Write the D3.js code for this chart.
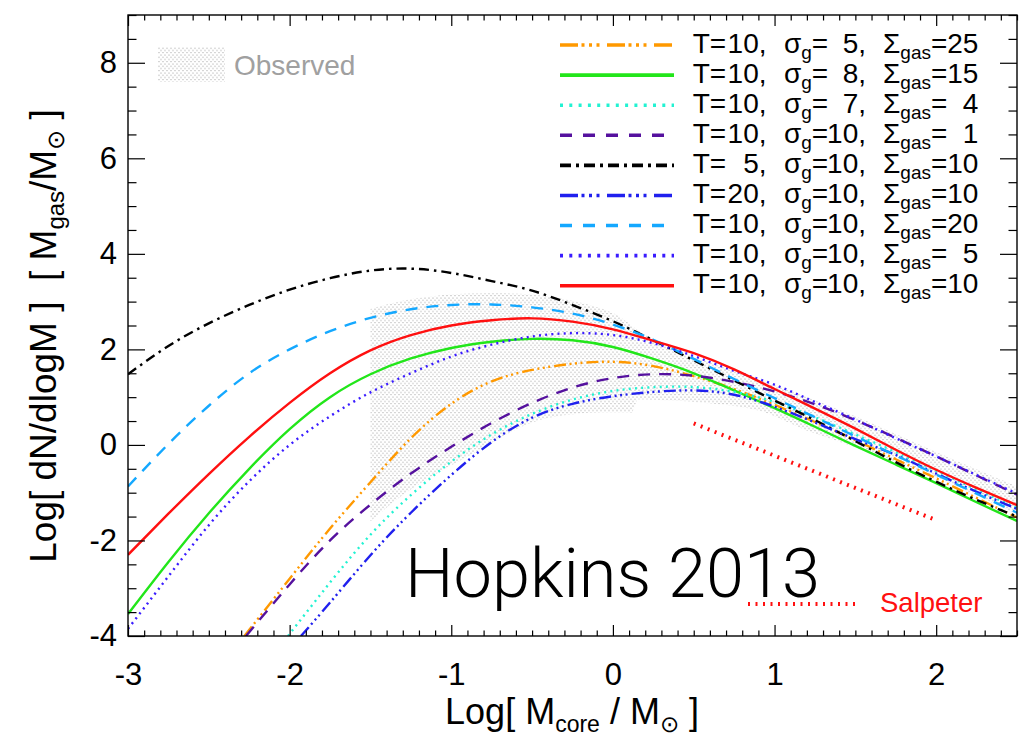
<!DOCTYPE html>
<html>
<head>
<meta charset="utf-8">
<script src="https://cdn.jsdelivr.net/npm/d3@7"></script>
<style>
  body { margin: 0; background: #fff; }
  svg { display: block; }
  text { font-family: "Liberation Sans", Arial, Helvetica, sans-serif; white-space: pre; }
</style>
</head>
<body>
<svg id="chart" width="1021" height="738"></svg>
<script>
// ---- Core mass function curves: [log M_core, log dN/dlogM] ----
const cmfT10s5g25 = [[-2.28,-4.0],[-2.0,-2.8],[-1.75,-1.75],[-1.5,-0.78],[-1.25,0.14],[-1.0,0.86],[-0.75,1.33],[-0.5,1.57],[-0.25,1.7],[0.0,1.74],[0.25,1.65],[0.5,1.44],[0.75,1.17],[1.0,0.84],[1.25,0.48],[1.5,0.1],[1.75,-0.3],[2.0,-0.7],[2.25,-1.11],[2.5,-1.52]];
const cmfT10s8g15 = [[-3,-3.54],[-2.75,-2.45],[-2.5,-1.43],[-2.25,-0.5],[-2.0,0.33],[-1.75,1.0],[-1.5,1.48],[-1.25,1.81],[-1.0,2.03],[-0.75,2.16],[-0.5,2.22],[-0.25,2.19],[0.0,2.05],[0.25,1.8],[0.5,1.5],[0.75,1.14],[1.0,0.77],[1.25,0.38],[1.5,-0.02],[1.75,-0.41],[2.0,-0.8],[2.25,-1.2],[2.5,-1.59]];
const cmfT10s7g4 = [[-2.01,-4.0],[-1.75,-2.88],[-1.5,-1.88],[-1.25,-1.05],[-1.0,-0.35],[-0.75,0.22],[-0.5,0.65],[-0.25,0.95],[0.0,1.13],[0.25,1.21],[0.5,1.21],[0.75,1.11],[1.0,0.9],[1.25,0.58],[1.5,0.22],[1.75,-0.15],[2.0,-0.54],[2.25,-0.93],[2.5,-1.32]];
const cmfT10s10g1 = [[-2.27,-4.0],[-2.0,-2.92],[-1.75,-2.0],[-1.5,-1.25],[-1.25,-0.6],[-1.0,-0.04],[-0.75,0.46],[-0.5,0.88],[-0.25,1.2],[0.0,1.4],[0.25,1.48],[0.5,1.45],[0.75,1.32],[1.0,1.12],[1.25,0.85],[1.5,0.52],[1.75,0.15],[2.0,-0.24],[2.25,-0.64],[2.5,-1.04]];
const cmfT5s10g10 = [[-3,1.48],[-2.75,2.07],[-2.5,2.545],[-2.25,2.93],[-2.0,3.25],[-1.75,3.49],[-1.5,3.65],[-1.25,3.69],[-1.0,3.6],[-0.75,3.43],[-0.5,3.23],[-0.25,2.93],[0.0,2.59],[0.25,2.19],[0.5,1.77],[0.75,1.35],[1.0,0.93],[1.25,0.52],[1.5,0.08],[1.75,-0.36],[2.0,-0.77],[2.25,-1.15],[2.5,-1.5]];
const cmfT20s10g10 = [[-1.93,-4.0],[-1.75,-3.3],[-1.5,-2.31],[-1.25,-1.42],[-1.0,-0.63],[-0.75,0.06],[-0.5,0.57],[-0.25,0.86],[0.0,1.02],[0.25,1.11],[0.5,1.14],[0.75,1.05],[1.0,0.8],[1.25,0.47],[1.5,0.12],[1.75,-0.21],[2.0,-0.6],[2.25,-0.98],[2.5,-1.34]];
const cmfT10s10g20 = [[-3,-0.87],[-2.75,0.02],[-2.5,0.82],[-2.25,1.5],[-2.0,2.0],[-1.75,2.38],[-1.5,2.66],[-1.25,2.84],[-1.0,2.93],[-0.75,2.94],[-0.5,2.88],[-0.25,2.75],[0.0,2.52],[0.25,2.2],[0.5,1.8],[0.75,1.38],[1.0,0.98],[1.25,0.58],[1.5,0.18],[1.75,-0.22],[2.0,-0.62],[2.25,-1.02],[2.5,-1.42]];
const cmfT10s10g5 = [[-3,-3.85],[-2.75,-2.75],[-2.5,-1.68],[-2.25,-0.76],[-2.0,0.0],[-1.75,0.6],[-1.5,1.1],[-1.25,1.5],[-1.0,1.85],[-0.75,2.1],[-0.5,2.27],[-0.25,2.34],[0.0,2.3],[0.25,2.13],[0.5,1.86],[0.75,1.55],[1.0,1.26],[1.25,0.9],[1.5,0.53],[1.75,0.14],[2.0,-0.24],[2.25,-0.63],[2.5,-1.02]];
const cmfT10s10g10 = [[-3,-2.30],[-2.75,-1.44],[-2.5,-0.61],[-2.25,0.17],[-2.0,0.88],[-1.75,1.5],[-1.5,1.98],[-1.25,2.3],[-1.0,2.5],[-0.75,2.61],[-0.5,2.65],[-0.25,2.58],[0.0,2.42],[0.25,2.18],[0.5,1.92],[0.75,1.58],[1.0,1.17],[1.25,0.76],[1.5,0.34],[1.75,-0.1],[2.0,-0.52],[2.25,-0.9],[2.5,-1.26]];

// Legend parameters, same order as the curves above
const legendT     = ["10", "10", "10", "10", "5", "20", "10", "10", "10"];
const legendSigma = ["5", "8", "7", "10", "10", "10", "10", "10", "10"];
const legendSigmaGas = ["25", "15", "4", "1", "10", "10", "20", "5", "10"];

// Observed CMF envelope
const obsUpper = [[-1.5,2.85],[-1.3,3.02],[-1.1,3.12],[-0.9,3.17],[-0.6,3.17],[-0.3,3.05],[0.0,2.76],[0.2,2.3],[0.5,1.85],[1.0,1.25],[1.5,0.6],[2.0,-0.15],[2.5,-0.87]];
const obsLowerRight = [[2.5,-1.45],[2.0,-0.68],[1.5,-0.05],[1.2,0.3],[0.9,0.72],[0.5,0.9],[0.15,0.95]];
const obsLowerLeft = [[0.12,0.68],[-0.2,0.66],[-0.5,0.47],[-0.9,-0.25],[-1.1,-0.62],[-1.3,-1.05],[-1.5,-1.6]];

// Salpeter slope reference segment
const salpeter = [[0.5,0.45],[2.0,-1.575]];

// Axis ticks
const xMajor = [-3, -2, -1, 0, 1, 2];
const yMajor = [-4, -2, 0, 2, 4, 6, 8];
const xMinor = d3.range(-30, 26).map(i => i / 10).filter(v => Math.abs(v - Math.round(v)) > 1e-6);
const yMinor = d3.range(-8, 19).map(i => i / 2).filter(v => v % 2 !== 0);

// ---- Layout ----
const L = 128, R = 1017, T = 15, B = 636;
const svg = d3.select("#chart");
const x = d3.scaleLinear().domain([-3, 2.5]).range([L, R]);
const y = d3.scaleLinear().domain([-4, 9]).range([B, T]);

const defs = svg.append("defs");
defs.append("clipPath").attr("id", "plotClip")
  .append("rect").attr("x", L).attr("y", T).attr("width", R - L).attr("height", B - T);

const pat = defs.append("pattern").attr("id", "obsDots")
  .attr("patternUnits", "userSpaceOnUse").attr("width", 4).attr("height", 4.5);
pat.append("circle").attr("cx", 1).attr("cy", 1).attr("r", 0.65).attr("fill", "#999");
pat.append("circle").attr("cx", 3).attr("cy", 3.25).attr("r", 0.65).attr("fill", "#999");

const styles = [
  { color: "#ff9900", dash: "12,3.5,2,3.5,2,3.5,2,4", ldash: "18,3.5,3,4.5,3,4.5,3,7.5" },
  { color: "#22e61a", dash: null, ldash: null },
  { color: "#22f2d2", dash: "2,4.2", ldash: "3,6.3" },
  { color: "#55119e", dash: "12,9", ldash: "12,11" },
  { color: "#000000", dash: "10,5,2.5,5", ldash: "11,5,3,5" },
  { color: "#2020ee", dash: "12,3.5,2,3.5,2,3.5,2,4", ldash: "18,3.5,3,4.5,3,4.5,3,7.5" },
  { color: "#14a8ff", dash: "12,9", ldash: "12,11" },
  { color: "#3a1cff", dash: "2,4.2", ldash: "3,6.3" },
  { color: "#ff1010", dash: null, ldash: null }
];
const curves = [cmfT10s5g25, cmfT10s8g15, cmfT10s7g4, cmfT10s10g1, cmfT5s10g10, cmfT20s10g10, cmfT10s10g20, cmfT10s10g5, cmfT10s10g10];

const smooth = d3.line().x(d => x(d[0])).y(d => y(d[1])).curve(d3.curveNatural);
const edge = d3.line().x(d => x(d[0])).y(d => y(d[1])).curve(d3.curveCatmullRom.alpha(0.5));
const straight = d3.line().x(d => x(d[0])).y(d => y(d[1]));

const plot = svg.append("g").attr("clip-path", "url(#plotClip)");

// Observed envelope
const obsPath = edge(obsUpper) + "L" + edge(obsLowerRight).slice(1) + "L" + edge(obsLowerLeft).slice(1) + "Z";
plot.append("path").attr("d", obsPath).attr("fill", "url(#obsDots)");

// Model curves
curves.forEach((c, i) => {
  plot.append("path").attr("d", smooth(c))
    .attr("fill", "none").attr("stroke", styles[i].color).attr("stroke-width", 2.4)
    .attr("stroke-dasharray", styles[i].dash);
});

// Salpeter segment
plot.append("path").attr("d", straight(salpeter))
  .attr("fill", "none").attr("stroke", "#ff1010").attr("stroke-width", 4).attr("stroke-dasharray", "2,5.5");

// ---- Axes ----
const fmt = d => (d < 0 ? "-" + Math.abs(d) : String(d));
function styleAxis(g) {
  g.select(".domain").remove();
  g.attr("font-family", null).attr("font-size", null);
  g.selectAll("line").attr("stroke", "#000").attr("stroke-width", 1.2);
  g.selectAll("text").filter(function () { return this.textContent === ""; }).remove();
  g.selectAll("text").attr("font-size", 31).attr("fill", "#000");
}
function ticks(axis, pos, values, size, labels, pad) {
  const a = axis(pos.scale).tickValues(values).tickSize(size);
  a.tickFormat(labels ? fmt : () => "");
  if (pad) a.tickPadding(pad);
  svg.append("g").attr("transform", pos.t).call(a).call(styleAxis);
}
ticks(d3.axisBottom, { scale: x, t: `translate(0,${B})` }, xMinor, -5.5, false);
ticks(d3.axisBottom, { scale: x, t: `translate(0,${B})` }, xMajor, -11, true, 27);
ticks(d3.axisTop, { scale: x, t: `translate(0,${T})` }, xMinor, -5.5, false);
ticks(d3.axisTop, { scale: x, t: `translate(0,${T})` }, xMajor, -11, false);
ticks(d3.axisLeft, { scale: y, t: `translate(${L},0)` }, yMinor, -8.5, false);
ticks(d3.axisLeft, { scale: y, t: `translate(${L},0)` }, yMajor, -17, true, 11);
ticks(d3.axisRight, { scale: y, t: `translate(${R},0)` }, yMinor, -8.5, false);
ticks(d3.axisRight, { scale: y, t: `translate(${R},0)` }, yMajor, -17, false);

svg.append("rect").attr("x", L).attr("y", T).attr("width", R - L).attr("height", B - T)
  .attr("fill", "none").attr("stroke", "#000").attr("stroke-width", 1.4);

// Text with subscripts: parts marked sub are lowered and shrunk
function subText(sel, parts, size, subSize, shift) {
  let pending = 0;
  parts.forEach(p => {
    const ts = sel.append("tspan").text(p.t);
    if (p.sub) {
      ts.attr("font-size", subSize).attr("dy", shift);
      pending = -shift;
    } else {
      ts.attr("font-size", size);
      if (pending) { ts.attr("dy", pending); pending = 0; }
    }
  });
  sel.attr("font-size", size);
}
const xt = svg.append("text").attr("x", 572).attr("y", 724).attr("text-anchor", "middle").attr("fill", "#000");
subText(xt, [{t: "Log[ M"}, {t: "core", sub: true}, {t: " / M"}, {t: "\u2299", sub: true}, {t: " ]"}], 36, 23, 8);

const yt = svg.append("text").attr("transform", "translate(56,336) rotate(-90)").attr("text-anchor", "middle").attr("fill", "#000");
subText(yt, [{t: "Log[ dN/dlogM ]  [ M"}, {t: "gas", sub: true}, {t: "/M"}, {t: "\u2299", sub: true}, {t: " ]"}], 37, 24, 8);

// ---- Legend ----
const legX0 = 560, legX1 = 674, legY0 = 45, legDY = 30.09;
curves.forEach((c, i) => {
  const ly = legY0 + i * legDY, by = ly + 7.7;
  svg.append("line").attr("x1", legX0).attr("x2", legX1).attr("y1", ly).attr("y2", ly)
    .attr("stroke", styles[i].color).attr("stroke-width", 3.6).attr("stroke-dasharray", styles[i].ldash);
  svg.append("text").attr("x", 692.7).attr("y", by).attr("font-size", 28).text("T=");
  svg.append("text").attr("x", 766.5).attr("y", by).attr("font-size", 28).attr("text-anchor", "end").text(legendT[i] + ",");
  const s = svg.append("text").attr("x", 784).attr("y", by);
  subText(s, [{t: "\u03C3"}, {t: "g", sub: true}, {t: "="}], 28, 19, 6);
  svg.append("text").attr("x", 866).attr("y", by).attr("font-size", 28).attr("text-anchor", "end").text(legendSigma[i] + ",");
  const g = svg.append("text").attr("x", 883).attr("y", by);
  subText(g, [{t: "\u03A3"}, {t: "gas", sub: true}, {t: "="}], 28, 19, 6);
  svg.append("text").attr("x", 978.3).attr("y", by).attr("font-size", 28).attr("text-anchor", "end").text(legendSigmaGas[i]);
});

// Observed legend
svg.append("rect").attr("x", 158).attr("y", 47).attr("width", 67).attr("height", 35).attr("fill", "url(#obsDots)");
svg.append("text").attr("x", 234).attr("y", 75).attr("font-size", 28).attr("fill", "#a0a0a0").text("Observed");

// Salpeter legend
svg.append("line").attr("x1", 748).attr("x2", 860).attr("y1", 604).attr("y2", 604)
  .attr("stroke", "#ff1010").attr("stroke-width", 4).attr("stroke-dasharray", "2,5.5");
svg.append("text").attr("x", 880).attr("y", 612).attr("font-size", 27.5).attr("fill", "#ff1010").text("Salpeter");

// Title label
svg.append("text").attr("x", 405).attr("y", 597).attr("font-size", 68.5)
  .style("font-family", "Roboto, Inter, Lato, sans-serif").attr("font-weight", 300).attr("fill", "#000")
  .text("Hopkins 2013");
</script>
</body>
</html>
